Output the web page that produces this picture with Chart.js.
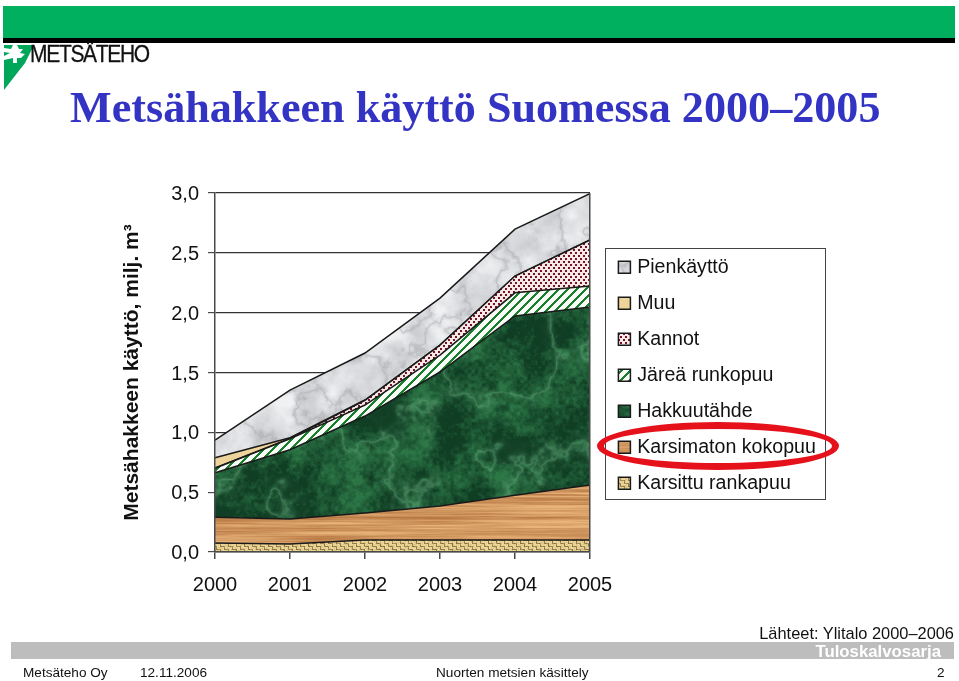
<!DOCTYPE html>
<html lang="fi">
<head>
<meta charset="utf-8">
<title>Metsähakkeen käyttö Suomessa 2000–2005</title>
<script src="https://cdn.jsdelivr.net/npm/chart.js@4/dist/chart.umd.min.js"></script>
<style>
  html, body { margin: 0; background: #fff; }
  #page { position: relative; width: 959px; height: 681px; overflow: hidden; font-family: "Liberation Sans", sans-serif; color: #111; }
  #page canvas { position: absolute; left: 0; top: 0; }
  .abs { position: absolute; white-space: nowrap; }
  #band { left: 3px; top: 6px; width: 952px; height: 32px; background: #00b05f; }
  #bar { left: 3px; top: 38px; width: 952px; height: 5px; background: #000; }
  #mark { left: 4px; top: 45px; width: 30px; height: 45px; background: #00a65a;
          clip-path: polygon(0 0, 30px 0, 21px 18px, 0 45px); }
  #tree { left: 4px; top: 45px; width: 24px; height: 18px; background: #fff;
          clip-path: polygon(9px 0, 13px 0, 15px 4px, 19px 4px, 16px 8px, 21px 9px, 17px 13px, 13px 13px, 13px 18px, 9px 18px, 9px 13px, 0 15px, 0 11px, 6px 8px, 0 7px, 0 3px, 7px 4px); }
  #logo { left: 30px; top: 40px; font-size: 24px; letter-spacing: -1.5px; color: #111; -webkit-text-stroke: 0.3px #111; transform-origin: 0 50%; transform: scaleX(0.875); }
  #title { left: 70px; top: 82px; font: bold 44.15px "Liberation Serif", serif; color: #3333c4; }
  #ring { left: 597px; top: 422px; width: 228px; height: 34px; border: 7px solid #e5121c; border-radius: 50%; }
  #sources { right: 5px; top: 624px; font-size: 16.4px; }
  #greybar { left: 11px; top: 642px; width: 943px; height: 17px; background: #bdbdbd; }
  #series { right: 18px; top: 642px; font-size: 16.8px; font-weight: bold; color: #fff; }
  .foot { top: 665px; font-size: 13.6px; }
</style>
</head>
<body>
<div id="page">
  <canvas id="usageChart" width="959" height="681"></canvas>
  <div class="abs" id="band"></div>
  <div class="abs" id="bar"></div>
  <div class="abs" id="mark"></div>
  <div class="abs" id="tree"></div>
  <div class="abs" id="logo">METSÄTEHO</div>
  <div class="abs" id="title">Metsähakkeen käyttö Suomessa 2000–2005</div>
  <div class="abs" id="ring"></div>
  <div class="abs" id="sources">Lähteet: Ylitalo 2000–2006</div>
  <div class="abs" id="greybar"></div>
  <div class="abs" id="series">Tuloskalvosarja</div>
  <div class="abs foot" style="left:23px">Metsäteho Oy</div>
  <div class="abs foot" style="left:140px">12.11.2006</div>
  <div class="abs foot" style="left:436px">Nuorten metsien käsittely</div>
  <div class="abs foot" style="left:937px">2</div>
</div>
<script>
const years = ['2000', '2001', '2002', '2003', '2004', '2005'];

// million m3 per year (bottom of the stack first)
const karsittuRankapuu = [0.075, 0.067, 0.10, 0.10, 0.10, 0.10];
const karsimatonKokopuu = [0.215, 0.208, 0.225, 0.285, 0.375, 0.46];
const hakkuutahde = [0.372, 0.58, 0.811, 1.119, 1.497, 1.487];
const jareaRunkopuu = [0.038, 0.09, 0.092, 0.142, 0.194, 0.175];
const kannot = [0.002, 0.003, 0.04, 0.083, 0.14, 0.385];
const muu = [0.086, 0.007, 0.002, 0, 0, 0];
const pienkaytto = [0.146, 0.398, 0.393, 0.393, 0.392, 0.388];

//texture helpers, the fills in the original are picture textures
const hash = (x, y) => {
    const s = Math.sin(x * 127.1 + y * 311.7) * 43758.5453;
    return s - Math.floor(s);
};
const smooth = (x, y) => {
    const ix = Math.floor(x), iy = Math.floor(y);
    const fx = x - ix, fy = y - iy;
    const u = fx * fx * (3 - 2 * fx), v = fy * fy * (3 - 2 * fy);
    const a = hash(ix, iy) + (hash(ix + 1, iy) - hash(ix, iy)) * u;
    const b = hash(ix, iy + 1) + (hash(ix + 1, iy + 1) - hash(ix, iy + 1)) * u;
    return a + (b - a) * v;
};
const fbm = (x, y) => {
    let sum = 0, amp = 0.5;
    for (let i = 0; i < 5; i++) {
        sum += amp * smooth(x, y);
        x *= 2.03; y *= 2.03; amp *= 0.5;
    }
    return sum / 0.97;
};
const texture = (w, h, pixel) => {
    const c = document.createElement('canvas');
    c.width = w; c.height = h;
    const g = c.getContext('2d');
    const img = g.createImageData(w, h);
    for (let y = 0; y < h; y++) {
        for (let x = 0; x < w; x++) {
            const p = pixel(x, y), i = (y * w + x) * 4;
            img.data[i] = p[0]; img.data[i + 1] = p[1]; img.data[i + 2] = p[2]; img.data[i + 3] = 255;
        }
    }
    g.putImageData(img, 0, 0);
    return g.createPattern(c, 'repeat');
};
const mix = (a, b, t) => a.map((v, i) => v + (b[i] - v) * Math.max(0, Math.min(1, t)));

const marble = texture(640, 640, (x, y) => {
    const vein = 1 - Math.abs(2 * fbm(x / 34, y / 34) - 1);
    const soft = fbm(x / 22 + 9, y / 22 + 4);
    return mix(mix([240, 241, 243], [203, 205, 208], soft * 2 - 0.55), [158, 160, 164], Math.pow(vein, 14) * 0.55);
});
const greenMarble = texture(640, 640, (x, y) => {
    const vein = 1 - Math.abs(2 * fbm(x / 52 + 3, y / 52 + 7) - 1);
    const blotch = fbm(x / 30, y / 30);
    const fine = fbm(x / 3.5, y / 3.5);
    const base = mix([16, 62, 36], [44, 118, 70], blotch * 2.2 - 0.75 + (fine - 0.5) * 1.1);
    return mix(base, [96, 168, 120], Math.pow(vein, 16) * 0.55);
});
const wood = texture(640, 640, (x, y) => {
    const streak = fbm(x / 110, y / 1.6);
    const band = fbm(x / 240 + 5, y / 10);
    return mix([232, 180, 122], [182, 118, 66], streak * 1.7 - 0.45 + (band - 0.5) * 0.8);
});
const burlap = texture(240, 120, (x, y) => {
    const weave = ((Math.floor(y / 3) + Math.floor(x / 4)) % 2 === 0) ? x % 4 === 0 : y % 3 === 0;
    return mix([238, 216, 152], [118, 92, 46], (weave ? 0.7 : 0.03) + (hash(x, y) - 0.5) * 0.35);
});
const dots = texture(5, 6, (x, y) => {
    const on = (x % 5 < 2 && y % 6 < 2) || ((x + 2) % 5 < 2 && (y + 3) % 6 < 2);
    return on ? [118, 18, 44] : [246, 234, 230];
});
const stripes = texture(9, 9, (x, y) => {
    const d = (x + y) % 9;
    return d < 3 ? [24, 128, 44] : [250, 252, 248];
});

const edge = '#1a1a1a';
const axisColor = '#4a4a4a';
const layer = (label, data, backgroundColor, fill) => ({
    label, data, backgroundColor, fill,
    borderColor: edge, borderWidth: 1.5, pointRadius: 0, tension: 0
});

//legend box around the library's own legend
const legendFrame = {
    id: 'legendFrame',
    afterLayout(chart) {
        const l = chart.legend;
        const w = l.width, h = l.height;
        l.left = 605; l.right = 605 + w;
        l.top = 241; l.bottom = 241 + h;
    },
    afterDraw(chart) {
        const g = chart.ctx;
        g.save();
        g.strokeStyle = '#444';
        g.lineWidth = 1;
        g.strokeRect(605.5, 248.5, 220, 251);
        g.restore();
    }
};

new Chart(document.getElementById('usageChart'), {
    type: 'line',
    data: {
        labels: years,
        datasets: [
            layer('Karsittu rankapuu', karsittuRankapuu, burlap, 'origin'),
            layer('Karsimaton kokopuu', karsimatonKokopuu, wood, '-1'),
            layer('Hakkuutähde', hakkuutahde, greenMarble, '-1'),
            layer('Järeä runkopuu', jareaRunkopuu, stripes, '-1'),
            layer('Kannot', kannot, dots, '-1'),
            layer('Muu', muu, '#eed49a', '-1'),
            layer('Pienkäyttö', pienkaytto, marble, '-1')
        ]
    },
    plugins: [legendFrame],
    options: {
        responsive: false,
        animation: false,
        layout: { padding: { top: 193, left: 0, right: 369, bottom: 0 } },
        plugins: {
            tooltip: { enabled: false },
            legend: {
                position: 'chartArea',
                align: 'start',
                reverse: true,
                labels: {
                    usePointStyle: true, pointStyle: 'rect',
                    boxWidth: 6, boxHeight: 12, padding: 16.4,
                    color: '#111',
                    font: { family: '"Liberation Sans"', size: 19.6 }
                }
            }
        },
        scales: {
            x: {
                afterFit: (s) => { s.height = 129; },
                border: { color: axisColor, width: 1.5, z: 1 },
                grid: {
                    z: 1,
                    tickLength: 7,
                    tickColor: axisColor,
                    lineWidth: 1.5,
                    color: (ctx) => ctx.index === years.length - 1 ? axisColor : 'transparent'
                },
                ticks: {
                    autoSkip: false, maxRotation: 0, padding: 14,
                    color: '#111',
                    font: { family: '"Liberation Sans"', size: 20 }
                }
            },
            y: {
                stacked: true,
                min: 0, max: 3,
                afterFit: (s) => { s.width = 215; },
                border: { color: axisColor, width: 1.5, z: 1 },
                grid: { color: '#333', tickColor: axisColor, lineWidth: 1.2, tickLength: 7 },
                ticks: {
                    stepSize: 0.5, padding: 9, labelOffset: 1.5,
                    color: '#111',
                    font: { family: '"Liberation Sans"', size: 20 },
                    callback: (v) => v.toFixed(1).replace('.', ',')
                },
                title: {
                    display: true,
                    text: 'Metsähakkeen käyttö, milj. m³',
                    color: '#111',
                    padding: { top: 120, bottom: 0 },
                    font: { family: '"Liberation Sans"', size: 21, weight: 'bold' }
                }
            }
        }
    }
});
</script>
</body>
</html>
